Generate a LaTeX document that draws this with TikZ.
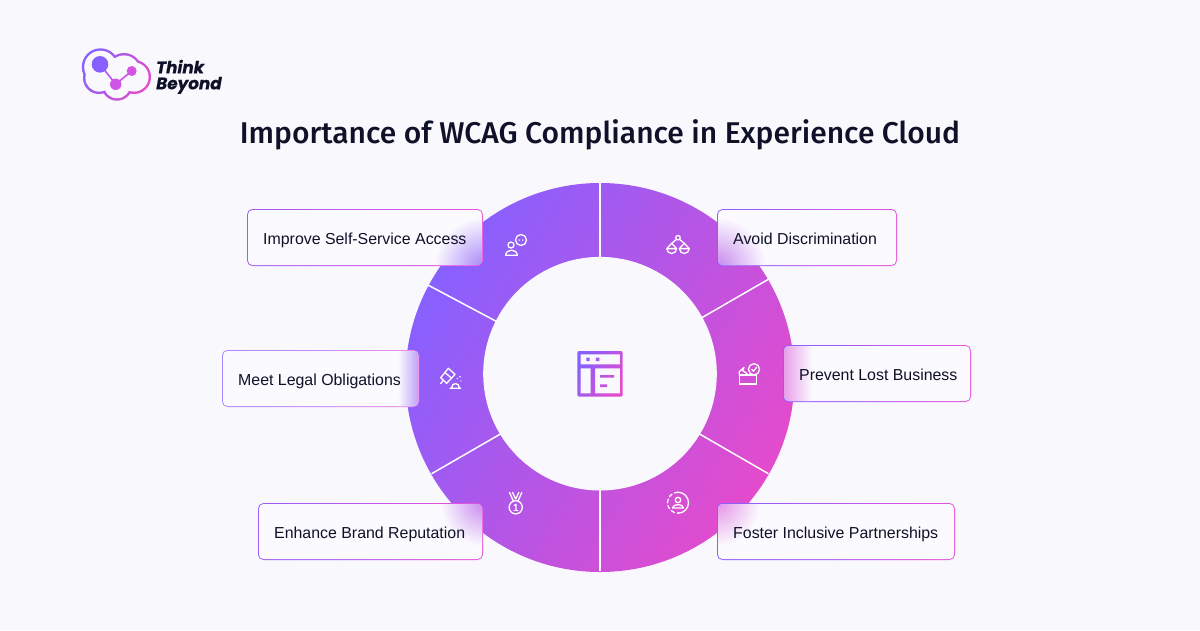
\documentclass[tikz,border=0pt]{standalone}
\usepackage{fontspec}
\setmainfont{Liberation Sans}
\newfontfamily\titlefont{Fira Sans Medium}
\newfontfamily\logofont[FakeBold=0.6]{Poppins}[BoldItalicFont={* Bold Italic}]
\usetikzlibrary{calc}
\definecolor{bgc}{HTML}{F8F8FD}
\definecolor{cardc}{HTML}{FBFAFE}
\definecolor{inkc}{HTML}{0F1128}
\definecolor{purp}{HTML}{8760FF}
\definecolor{pink}{HTML}{E44BCC}
\definecolor{mag}{HTML}{E850DC}
\definecolor{gpurp}{HTML}{A684F8}
\definecolor{gmid}{HTML}{C686EE}
\definecolor{gpink}{HTML}{E38EE6}
\tikzset{
  lab/.style={font=\fontsize{15.9}{18}\selectfont,text=inkc,anchor=base west,inner sep=0pt},
  logot/.style={font=\logofont\bfseries\itshape\fontsize{16.8}{17}\selectfont,text=inkc,anchor=base west,inner sep=0pt},
  ico/.style={draw=white,line width=1.3pt,line cap=round,line join=round},
  div/.style={draw=white,line width=1.5pt},
  gradring/.style={top color=purp,bottom color=pink,shading angle=59},
}
\newcommand{\cardbox}[7]{%
  \shade[left color=#6,right color=#7,rounded corners=5.5pt] (#2,#3) rectangle (#4,#5);
  \fill[cardc,rounded corners=4.5pt] (#2+1,#3+1) rectangle (#4-1,#5-1);
}
\newcommand{\cloudshape}[1]{%
  (100.5,67) circle (18.7-#1) (99,78) circle (16-#1) (124,71) circle (18-#1)
  (134,77) circle (17-#1) (117,85) circle (15.7-#1) (113,73) circle (15)
}
\begin{document}
\begin{tikzpicture}[x=1pt,y=-1pt]
\useasboundingbox (0,0) rectangle (1200,630);
\fill[bgc] (0,0) rectangle (1200,630);

% logo
\shade[gradring] \cloudshape{0};
\fill[bgc] \cloudshape{2.4};
\coordinate (ca) at (100,64.3); \coordinate (cb) at (115.7,84.3); \coordinate (cc) at (131.7,71);
\draw[color=purp!55!mag,line width=1.6pt] (ca) -- (cb);
\draw[color=mag!80!purp,line width=1.6pt] (cb) -- (cc);
\fill[purp] (ca) circle (8.3);
\fill[mag!75!purp] (cb) circle (5.7);
\fill[mag!80!purp] (cc) circle (5);
\node[logot] (logo1) at (156,73.3) {Think};
\node[logot] (logo2) at (156,89.3) {Beyond};

% title
\node[font=\titlefont\fontsize{30}{32}\selectfont,text=inkc,inner sep=0pt,anchor=base] (title) at (600,143) {Importance of WCAG Compliance in Experience Cloud};

% ring
\coordinate (c) at (600,377.5);
\coordinate (d) at (600,376.5);
\shade[gradring] (c) circle (194.5);
\foreach \a in {90,-30,30,-90,150,-152}{
  \draw[div] ($(d)+(\a:100)$) -- ($(d)+(\a:194.5)$);
}
\fill[bgc] (600,373.7) circle (116.8);

\begin{scope}[ico]
% icon 1
\draw[ico] (511,245) circle (3);
\draw[ico] (505.7,255.3) .. controls (505.7,248.5) and (517.3,248.5) .. (517.3,255.3) -- cycle;
\draw[ico] (521,240) circle (5.5);
\fill[white] (519.2,240) circle (.8) (522.8,240) circle (.8);
% icon 2
\draw[ico] (678,237.7) circle (2.2);
\draw[ico] (676.4,239.4) -- (671.7,243.3) (679.6,239.4) -- (684.3,243.3);
\draw[ico] (666.8,248.6) -- (676.6,248.6) arc (0:180:4.9) -- cycle;
\draw[ico] (679.4,248.6) -- (689.2,248.6) arc (0:180:4.9) -- cycle;
\draw[ico] (671.7,243.3) -- (666.8,248.6) (671.7,243.3) -- (676.6,248.6) (684.3,243.3) -- (679.4,248.6) (684.3,243.3) -- (689.2,248.6);
% icon 3
\draw[ico] (739.3,375) rectangle (756.7,384);
\draw[ico] (739.3,375) -- (739.3,371.7) -- (744,367.3) -- (742.5,370.5) -- (745.5,372.5) -- (748,375);
\draw[ico] (754,369.3) circle (5.6);
\draw[ico] (751.7,369.5) -- (753.4,371.2) -- (756.4,367.6);
% icon 4
\draw[ico] (448.3,368.3) -- (455,374.3) -- (446.7,383.3) -- (440.7,377.7) -- cycle;
\draw[ico] (444.7,372.3) -- (451.7,378.3);
\draw[ico] (443.3,380.3) -- (440.7,383.5);
\draw[ico] (450,388.3) -- (460.7,388.3) (451.7,387.5) .. controls (451.7,382.3) and (459.3,382.3) .. (459.3,387.5);
\fill[white] (460,376.7) circle (.8) (457.3,378.5) circle (.7) (461,381) circle (.7);
% icon 5
\draw[ico] (515.7,507.3) circle (6.6);
\draw[ico] (509.5,492.5) -- (513.3,501) (512.5,492.5) -- (515.7,499) -- (518.8,492.5) (521.8,492.5) -- (518,501);
\draw[ico] (514.3,505.5) -- (516,504.3) -- (516,510.2);
\draw[ico] (514.2,510.2) -- (517.8,510.2);
% icon 6
\draw[ico,dash pattern=on 3.6pt off 2.8pt] (678,492.2) arc (-90:-270:10.5);
\draw[ico] (678,492.2) arc (-90:90:10.5);
\draw[ico] (678,500) circle (2.7);
\draw[ico] (672.5,508) .. controls (672.5,503.5) and (683.5,503.5) .. (683.5,508) -- cycle;
\end{scope}

% center icon
\shade[gradring,even odd rule]
  [rounded corners=2pt] (577.3,351) rectangle (622.7,396.7)
  [sharp corners]
  (580.7,354.3) rectangle (620,364.3)
  (580.7,368.3) rectangle (590.7,393.3)
  (595,368.3) rectangle (620,393.3)
  (586.3,357.6) rectangle (589.7,361)
  (595.9,357.6) rectangle (599.3,361)
  (600,375) rectangle (614,377.6)
  (600,384.3) rectangle (607,387);

% cards
\cardbox{c1}{247}{209}{483}{266}{purp!70!mag}{mag}
\begin{scope}
\clip[rounded corners=4.5pt] (248,210) rectangle (482,265);
\shade[inner color=gpurp,outer color=cardc] (484,267) circle (50);
\end{scope}
\node[lab] (t1) at (263,244) {Improve Self-Service Access};

\cardbox{c2}{717}{209}{897}{266}{purp}{mag}
\begin{scope}
\clip[rounded corners=4.5pt] (718,210) rectangle (896,265);
\shade[inner color=gmid,outer color=cardc] (716,267) circle (50);
\end{scope}
\node[lab] (t2) at (733,244) {Avoid Discrimination};

\cardbox{c3}{783}{345}{971}{402}{purp}{mag}
\begin{scope}
\clip[rounded corners=4.5pt] (784,346) rectangle (970,401);
\shade[left color=gpink!85!white,right color=cardc] (784,346) rectangle (812,401);
\end{scope}
\node[lab] (t3) at (799,380) {Prevent Lost Business};

\cardbox{c4}{222}{350}{419}{407}{purp!75!white}{mag!65!white}
\begin{scope}
\clip[rounded corners=4.5pt] (223,351) rectangle (418,406);
\shade[left color=cardc,right color=gpurp!75!white] (398,351) rectangle (418,406);
\end{scope}
\node[lab] (t4) at (238,385) {Meet Legal Obligations};

\cardbox{c5}{258}{503}{483}{560}{purp!80!mag}{mag}
\begin{scope}
\clip[rounded corners=4.5pt] (259,504) rectangle (482,559);
\shade[inner color=gmid,outer color=cardc] (484,502) circle (44);
\end{scope}
\node[lab] (t5) at (274,538) {Enhance Brand Reputation};

\cardbox{c6}{717}{503}{955}{560}{purp}{mag}
\begin{scope}
\clip[rounded corners=4.5pt] (718,504) rectangle (954,559);
\shade[inner color=gpink,outer color=cardc] (716,502) circle (44);
\end{scope}
\node[lab] (t6) at (733,538) {Foster Inclusive Partnerships};
\end{tikzpicture}
\end{document}
